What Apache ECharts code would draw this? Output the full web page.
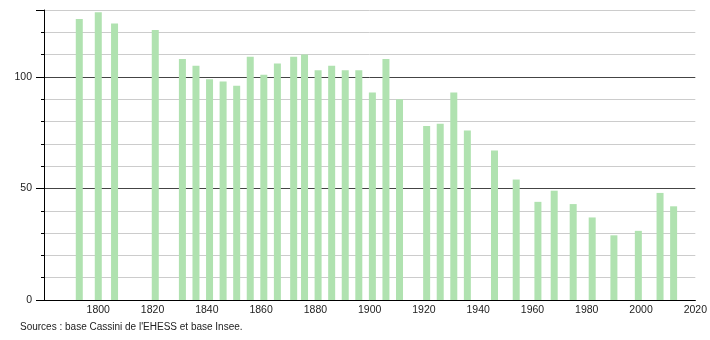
<!DOCTYPE html>
<html><head><meta charset="utf-8">
<script src="https://cdn.jsdelivr.net/npm/echarts@6/dist/echarts.min.js"></script>
<style>html,body{margin:0;padding:0;background:#fff}#c{width:710px;height:340px}</style>
</head><body><div id="c"></div>
<script>
var years = [1793,1800,1806,1821,1831,1836,1841,1846,1851,1856,1861,1866,1872,1876,1881,1886,1891,1896,1901,1906,1911,1921,1926,1931,1936,1946,1954,1962,1968,1975,1982,1990,1999,2007,2012];
var population = [126,129,124,121,108,105,99,98,96,109,101,106,109,110,103,105,103,103,93,108,90,78,79,93,76,67,54,44,49,43,37,29,31,48,42];
var yLabels = [0,50,100];
var xLabels = [1800,1820,1840,1860,1880,1900,1920,1940,1960,1980,2000,2020];
var sourceText = "Sources : base Cassini de l'EHESS et base Insee.";

var chart = echarts.init(document.getElementById('c'), null, {renderer:'canvas'});
var font = 'Liberation Sans, Arial, sans-serif';
chart.setOption({
  animation:false,
  grid:{left:44,right:14,top:10,bottom:40,containLabel:false},
  xAxis:{type:'value',min:1780,max:2020,interval:20,
    axisLine:{show:true,lineStyle:{color:'#000',width:1}},
    axisTick:{show:false},splitLine:{show:false},
    axisLabel:{fontFamily:font,fontSize:10.5,color:'#222',margin:5,
      formatter:function(v){return xLabels.indexOf(v)>=0?String(v):'';}}},
  yAxis:[{type:'value',min:0,max:130,interval:10,
    axisLine:{show:true,lineStyle:{color:'#000',width:1}},
    axisTick:{show:true,length:3,lineStyle:{color:'#000'}},
    splitLine:{show:true,lineStyle:{color:['#444','#ccc','#ccc','#ccc','#ccc'],width:1}},
    axisLabel:{fontFamily:font,fontSize:10.5,color:'#222',margin:12,
      formatter:function(v){return yLabels.indexOf(v)>=0?String(v):'';}}},
    {type:'value',min:0,max:130,interval:50,position:'left',
    axisLine:{show:false},axisTick:{show:true,length:8,lineStyle:{color:'#000'}},
    splitLine:{show:false},axisLabel:{show:false}}],
  series:[{type:'bar',barWidth:7,itemStyle:{color:'#b0e2b0'},
    data:years.map(function(y,i){return [y,population[i]];})}],
  graphic:[{type:'text',left:20,top:322,style:{text:sourceText,font:'10px Liberation Sans, Arial, sans-serif',fill:'#222'}}]
});
</script></body></html>
